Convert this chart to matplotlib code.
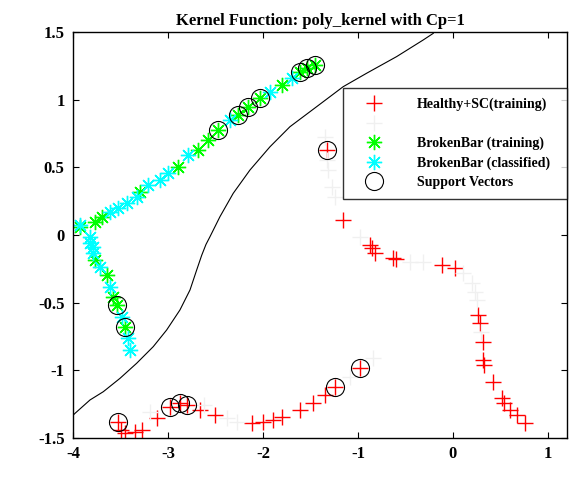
import matplotlib.pyplot as plt
import numpy as np

# decision boundary
bound_x = [-4.0, -3.979, -3.821, -3.681, -3.505, -3.33, -3.155, -3.014, -2.874, -2.768,
           -2.698, -2.645, -2.60, -2.558, -2.453, -2.313, -2.137, -1.926, -1.716, -1.435,
           -1.155, -0.909, -0.593, -0.313, -0.207]
bound_y = [-1.332, -1.318, -1.219, -1.158, -1.059, -0.948, -0.825, -0.702, -0.554, -0.406,
           -0.259, -0.150, -0.07, -0.013, 0.135, 0.308, 0.48, 0.652, 0.8, 0.948,
           1.096, 1.195, 1.318, 1.441, 1.49]

# Healthy+SC (training) - red
healthy_x = [-0.856, -0.82, -0.628, -0.60, -0.119, 0.021, 0.266, 0.284, 0.319, 0.319, 0.33,
             0.424, 0.512, 0.54, 0.60, 0.67, 0.758, -1.33, -1.155, -0.874,
             -0.979, -1.242, -1.347, -1.47, -1.61, -1.803, -1.892, -1.997, -2.119,
             -2.505, -2.663, -2.803, -2.874, -2.979, -3.119, -3.277, -3.347, -3.453,
             -3.49, -3.523]
healthy_y = [-0.098, -0.13, -0.172, -0.18, -0.222, -0.246, -0.591, -0.653, -0.788, -0.924, -0.96,
             -1.084, -1.207, -1.24, -1.293, -1.33, -1.391, 0.628, 0.111, -0.074,
             -0.985, -1.121, -1.182, -1.244, -1.293, -1.343, -1.367, -1.379, -1.391,
             -1.33, -1.293, -1.256, -1.244, -1.269, -1.355, -1.441, -1.453, -1.466,
             -1.44, -1.379]

# Healthy+SC (classified) - very light grey
hclass_x = [-1.347, -1.33, -1.31, -1.277, -1.242, -0.979, -0.453, -0.313, 0.109, 0.197,
            0.23, 0.249, 0.30, -0.839, -1.084, -2.382, -2.277, -2.62, -3.19]
hclass_y = [0.726, 0.554, 0.48, 0.357, 0.283, -0.013, -0.197, -0.197, -0.283, -0.357,
            -0.42, -0.48, -0.72, -0.911, -1.047, -1.355, -1.379, -1.256, -1.306]

# BrokenBar (training) - green
bb_train_x = [-1.453, -1.54, -1.611, -1.803, -2.032, -2.155, -2.26, -2.47, -2.576, -2.681,
              -2.892, -3.295, -3.698, -3.768, -3.926, -3.768, -3.645, -3.576, -3.54, -3.453]
bb_train_y = [1.256, 1.232, 1.207, 1.108, 1.01, 0.948, 0.887, 0.776, 0.702, 0.628,
              0.505, 0.32, 0.135, 0.098, 0.061, -0.185, -0.296, -0.456, -0.517, -0.682]

# BrokenBar (classified) - cyan
bb_class_x = [-1.698, -1.926, -2.347, -2.786, -2.997, -3.084, -3.207, -3.33, -3.435, -3.523,
              -3.611, -3.926, -3.821, -3.786, -3.82, -3.786, -3.716, -3.611, -3.488, -3.418, -3.4]
bb_class_y = [1.158, 1.059, 0.85, 0.591, 0.456, 0.406, 0.369, 0.283, 0.234, 0.197,
              0.172, 0.074, -0.013, -0.087, -0.061, -0.135, -0.234, -0.382, -0.604, -0.763, -0.85]

# support vectors
sv_x = [-1.453, -1.54, -1.611, -2.032, -2.155, -2.26, -2.47, -3.54, -3.453,
        -1.33, -0.979, -1.242, -2.803, -2.874, -2.979, -3.523]
sv_y = [1.256, 1.232, 1.207, 1.01, 0.948, 0.887, 0.776, -0.517, -0.682,
        0.628, -0.985, -1.121, -1.256, -1.244, -1.269, -1.379]

plt.rcParams['font.family'] = ['Liberation Serif', 'DejaVu Serif']
plt.rcParams['font.weight'] = 'bold'

fig = plt.figure(figsize=(5.77, 4.79), dpi=100)
ax = fig.add_axes([0.1265, 0.0856, 0.856, 0.8476])

asterisk = (8, 2, 0)
h1, = ax.plot(healthy_x, healthy_y, linestyle='none', marker='+', color='#ff0000',
              markersize=11, mew=1)
h2, = ax.plot(hclass_x, hclass_y, linestyle='none', marker='+', color='#f0f0f0',
              markersize=11, mew=1)
h3, = ax.plot(bb_train_x, bb_train_y, linestyle='none', marker=asterisk, color='#00ff00',
              markersize=11, mew=1)
h4, = ax.plot(bb_class_x, bb_class_y, linestyle='none', marker=asterisk, color='#00ffff',
              markersize=11, mew=1)
h5, = ax.plot(sv_x, sv_y, linestyle='none', marker='o', mfc='none', mec='black',
              markersize=13, mew=0.8)
ax.plot(bound_x, bound_y, color='black', linewidth=0.8)

ax.set_xlim(-4, 1.2)
ax.set_ylim(-1.5, 1.5)
ax.set_xticks([-4, -3, -2, -1, 0, 1])
ax.set_xticklabels(['-4', '-3', '-2', '-1', '0', '1'])
ax.set_yticks([-1.5, -1, -0.5, 0, 0.5, 1, 1.5])
ax.set_yticklabels(['-1.5', '-1', '-0.5', '0', '0.5', '1', '1.5'])
ax.tick_params(direction='in', top=True, right=True, labelsize=12, length=4, pad=6)
for s in ax.spines.values():
    s.set_linewidth(1)
ax.set_title('Kernel Function: poly_kernel with Cp=1', fontsize=12, fontweight='bold', pad=5)

leg = ax.legend([h1, h2, h3, h4, h5],
                ['Healthy+SC(training)', '', 'BrokenBar (training)',
                 'BrokenBar (classified)', 'Support Vectors'],
                loc='upper left', bbox_to_anchor=(0.547, 0.862, 0.453, 0.0), mode='expand',
                fontsize=10, frameon=True, fancybox=False, edgecolor='black',
                borderaxespad=0, handlelength=3.0, handletextpad=1.6, labelspacing=0.45,
                borderpad=0.7, markerscale=1)
leg.get_frame().set_linewidth(1)

fig.savefig('out.png', dpi=100)
